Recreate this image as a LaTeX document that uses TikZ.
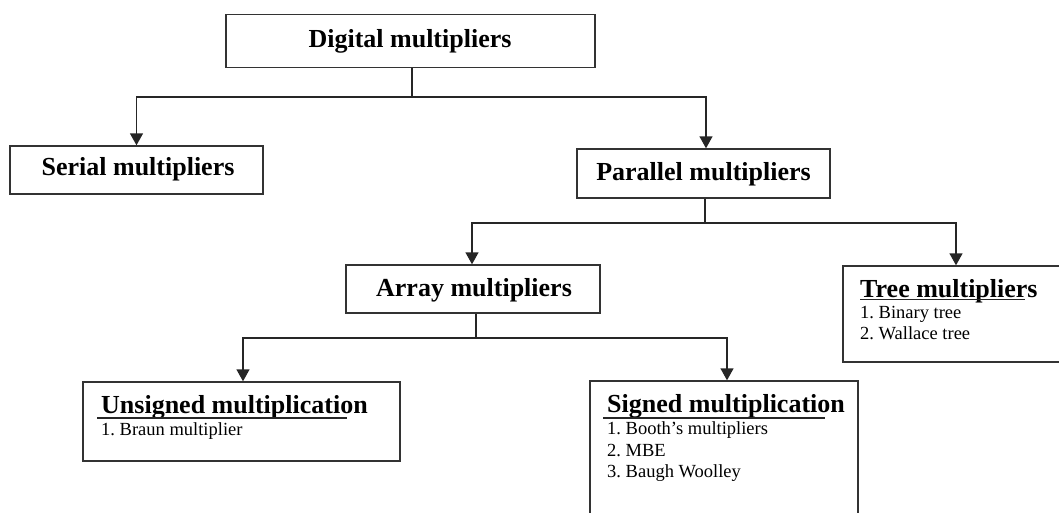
\documentclass[tikz,border=0pt]{standalone}
\usepackage{fontspec}
\setmainfont{Liberation Serif}
\usetikzlibrary{arrows.meta}
\frenchspacing
\tikzset{
  box/.style={draw=black!80, line width=1.4pt, rectangle, inner sep=0pt},
  ttl/.style={font=\fontsize{26}{30}\selectfont\bfseries, inner sep=0pt, anchor=base},
  hd/.style={font=\fontsize{26}{30}\selectfont\bfseries, inner sep=0pt, anchor=base west},
  itm/.style={font=\fontsize{18.5}{21}\selectfont, inner sep=0pt, anchor=base west},
  ln/.style={draw=black!85, line width=1.4pt},
  arr/.style={ln, -{Triangle[width=13pt,length=12pt]}},
  ul/.style={draw=black!85, line width=1.2pt}
}
\begin{document}
\begin{tikzpicture}[x=1pt,y=-1pt]
\useasboundingbox (0,0) rectangle (1059,512);
% boxes
\node[box, minimum width=369pt, minimum height=53pt] (dig) at (410.5,41) {};
\node[ttl] (digt) at (410,47) {Digital multipliers};
\node[box, minimum width=253pt, minimum height=48pt] (ser) at (136.5,170) {};
\node[ttl] (sert) at (138,175) {Serial multipliers};
\node[box, minimum width=253pt, minimum height=49pt] (par) at (703.5,173.5) {};
\node[ttl] (part) at (703.5,180) {Parallel multipliers};
\node[box, minimum width=254pt, minimum height=48pt] (arrb) at (473,289) {};
\node[ttl] (arrt) at (474,296) {Array multipliers};
\node[box, minimum width=232pt, minimum height=96pt] (tree) at (959,314) {};
\node[box, minimum width=317pt, minimum height=79pt] (uns) at (241.5,421.5) {};
\node[box, minimum width=268pt, minimum height=150pt] (sig) at (724,456) {};
% list contents
\node[hd] (treeh) at (860,297) {Tree multipliers};
\draw[ul] (860,299.5) -- (1025,299.5);
\node[itm] (tree1) at (860,318) {1. Binary tree};
\node[itm] (tree2) at (860,339) {2. Wallace tree};
\node[hd] (unsh) at (101,413) {Unsigned multiplication};
\draw[ul] (97,418) -- (347,418);
\node[itm] (uns1) at (101,435) {1. Braun multiplier};
\node[hd] (sigh) at (607,412) {Signed multiplication};
\draw[ul] (603,418) -- (825,418);
\node[itm] (sig1) at (607,434) {1. Booth’s multipliers};
\node[itm] (sig2) at (607,456) {2. MBE};
\node[itm] (sig3) at (607,477) {3. Baugh Woolley};
% connectors
\coordinate (j1) at (412,97);
\coordinate (j2) at (705,223);
\coordinate (j3) at (476,338);
\draw[ln] (dig.south -| j1) -- (j1);
\draw[arr] (j1) -| (ser.north);
\draw[arr] (j1) -| ([xshift=2.5pt]par.north);
\draw[ln] (par.south -| j2) -- (j2);
\draw[arr] (j2) -| ([xshift=-1pt]arrb.north);
\draw[arr] (j2) -| ([xshift=-3pt]tree.north);
\draw[ln] (arrb.south -| j3) -- (j3);
\draw[arr] (j3) -| ([xshift=1.5pt]uns.north);
\draw[arr] (j3) -| ([xshift=3pt]sig.north);
\end{tikzpicture}
\end{document}
